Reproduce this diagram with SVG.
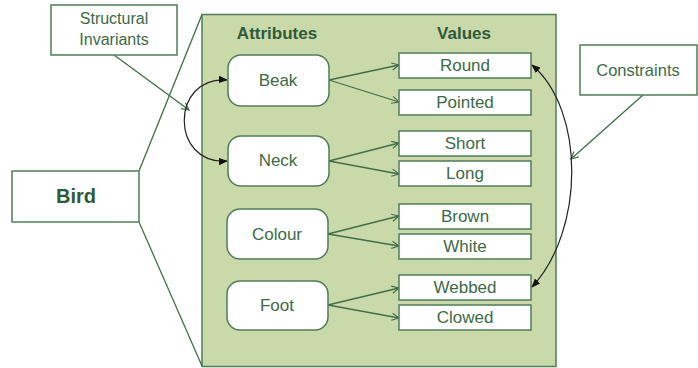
<svg xmlns="http://www.w3.org/2000/svg" width="698" height="368" viewBox="0 0 698 368">
<defs>
<style>
.box{fill:#ffffff;stroke:#4f7d5a;stroke-width:1.5}
.t{font-family:"Liberation Sans",Arial,sans-serif;font-size:17px;fill:#3c6a48;text-anchor:middle}
.h{font-family:"Liberation Sans",Arial,sans-serif;font-size:17px;font-weight:bold;fill:#2f5a3a;text-anchor:middle}
.g{fill:none;stroke:#3f6e4a;stroke-width:1.3}
.k{fill:none;stroke:#222222;stroke-width:1.2}
</style>
<marker id="open" viewBox="0 0 10 10" refX="9" refY="5" markerWidth="9" markerHeight="9" markerUnits="userSpaceOnUse" orient="auto">
<path d="M1,1 L9,5 L1,9" fill="none" stroke="#3f6e4a" stroke-width="1.3"/>
</marker>
<marker id="blk" viewBox="0 0 10 10" refX="9" refY="5" markerWidth="9" markerHeight="9" markerUnits="userSpaceOnUse" orient="auto-start-reverse">
<path d="M0,1 L10,5 L0,9 Z" fill="#111111"/>
</marker>
</defs>
<rect width="698" height="368" fill="#ffffff"/>
<g id="panel">
<rect x="202" y="14.5" width="354" height="352" fill="#cad9a9" stroke="#4f7d5a" stroke-width="1.5"/>
<text class="h" x="277" y="39">Attributes</text>
<text class="h" x="464" y="39">Values</text>
</g>
<g id="connectors">
<line class="g" x1="139" y1="171" x2="202" y2="14.5"/>
<line class="g" x1="139" y1="222" x2="202" y2="366"/>
<line class="g" x1="114" y1="55" x2="189" y2="110" marker-end="url(#open)"/>
<line class="g" x1="643" y1="95" x2="571" y2="159" marker-end="url(#open)"/>
<line class="g" x1="329" y1="80" x2="399" y2="65" marker-end="url(#open)"/>
<line class="g" x1="329" y1="80" x2="399" y2="102" marker-end="url(#open)"/>
<line class="g" x1="329" y1="161" x2="399" y2="143" marker-end="url(#open)"/>
<line class="g" x1="329" y1="161" x2="399" y2="174" marker-end="url(#open)"/>
<line class="g" x1="328" y1="234" x2="399" y2="216" marker-end="url(#open)"/>
<line class="g" x1="328" y1="234" x2="399" y2="246" marker-end="url(#open)"/>
<line class="g" x1="328" y1="305" x2="399" y2="288" marker-end="url(#open)"/>
<line class="g" x1="328" y1="305" x2="399" y2="318" marker-end="url(#open)"/>
<path class="k" d="M227,80 C170,76 170,165 227,161" marker-start="url(#blk)" marker-end="url(#blk)"/>
<path class="k" d="M532,65 C585,110 585,230 532,287" marker-start="url(#blk)" marker-end="url(#blk)"/>
</g>
<g id="bird"><rect class="box" x="12" y="171" width="127" height="51"/><text class="h" x="76" y="203" style="font-size:20px">Bird</text></g>
<g id="structural-invariants"><rect class="box" x="51" y="5" width="126" height="50"/><text class="t" x="114" y="24" style="font-size:16px">Structural</text><text class="t" x="114" y="45" style="font-size:16px">Invariants</text></g>
<g id="constraints"><rect class="box" x="580" y="45" width="117" height="50"/><text class="t" x="638" y="76" style="font-size:16.5px">Constraints</text></g>
<g id="beak"><rect class="box" x="228" y="55" width="101" height="51" rx="13"/><text class="t" x="278" y="86">Beak</text></g>
<g id="neck"><rect class="box" x="228" y="136" width="101" height="50" rx="13"/><text class="t" x="278" y="166">Neck</text></g>
<g id="colour"><rect class="box" x="227" y="209" width="101" height="50" rx="13"/><text class="t" x="277" y="240">Colour</text></g>
<g id="foot"><rect class="box" x="227" y="281" width="101" height="49" rx="13"/><text class="t" x="277" y="311">Foot</text></g>
<g id="round"><rect class="box" x="399" y="53" width="132" height="25"/><text class="t" x="465" y="71">Round</text></g>
<g id="pointed"><rect class="box" x="399" y="90" width="132" height="25"/><text class="t" x="465" y="108">Pointed</text></g>
<g id="short"><rect class="box" x="399" y="131" width="132" height="25"/><text class="t" x="465" y="149">Short</text></g>
<g id="long"><rect class="box" x="399" y="161" width="132" height="25"/><text class="t" x="465" y="179">Long</text></g>
<g id="brown"><rect class="box" x="399" y="204" width="132" height="25"/><text class="t" x="465" y="222">Brown</text></g>
<g id="white"><rect class="box" x="399" y="234" width="132" height="25"/><text class="t" x="465" y="252">White</text></g>
<g id="webbed"><rect class="box" x="399" y="275" width="132" height="25"/><text class="t" x="465" y="293">Webbed</text></g>
<g id="clowed"><rect class="box" x="399" y="305" width="132" height="25"/><text class="t" x="465" y="323">Clowed</text></g>
</svg>
